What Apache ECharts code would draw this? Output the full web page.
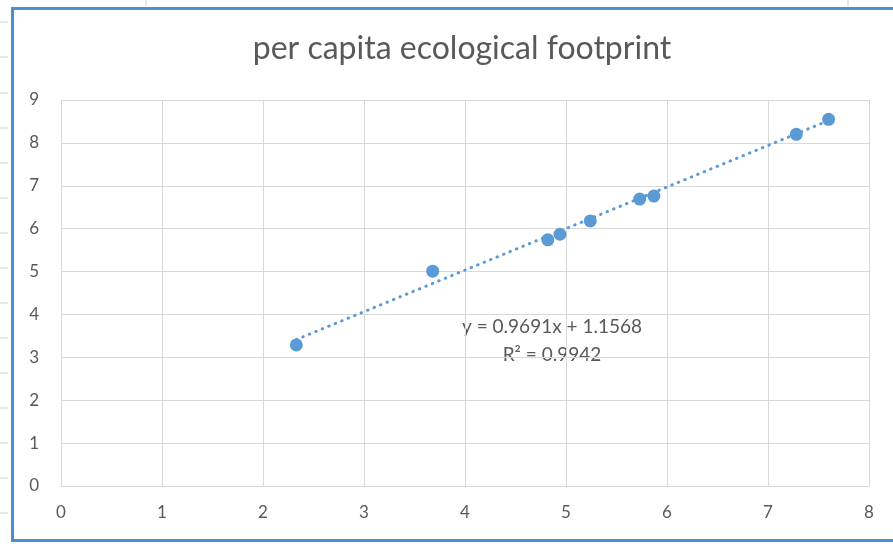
<!DOCTYPE html>
<html>
<head>
<meta charset="utf-8">
<script src="https://cdn.jsdelivr.net/npm/echarts@6/dist/echarts.min.js"></script>
<style>
html,body{margin:0;padding:0;background:#fff;}
#c{width:893px;height:544px;}
</style>
</head>
<body>
<div id="c"></div>
<script>
const chartTitle = 'per capita ecological footprint';
const xValues = [2.33, 3.68, 4.82, 4.94, 5.24, 5.73, 5.87, 7.28, 7.60];
const yValues = [3.29, 5.01, 5.74, 5.87, 6.18, 6.69, 6.76, 8.20, 8.55];
const trendSlope = 0.9691;
const trendIntercept = 1.1568;
const trendLabel = ['y = 0.9691x + 1.1568', 'R² = 0.9942'];

const points = xValues.map((x, i) => [x, yValues[i]]);
const xMin = Math.min(...xValues), xMax = Math.max(...xValues);
const trend = [[xMin, trendSlope * xMin + trendIntercept], [xMax, trendSlope * xMax + trendIntercept]];

const chart = echarts.init(document.getElementById('c'), null, {renderer: 'canvas'});
const fontFam = 'Lato, "Open Sans", sans-serif';
const txt = '#595959';
const gridCol = '#d9d9d9';

const rowTicks = [];
[22, 57, 93, 128, 163, 198, 233, 268, 303, 338, 373, 408, 443, 478, 513].forEach(y => {
  rowTicks.push({type:'line', shape:{x1:0,y1:y,x2:8,y2:y}, style:{stroke:'#d0d0d0', lineWidth:1}, silent:true});
});

chart.setOption({
  backgroundColor: '#fff',
  animation: false,
  title: {
    text: chartTitle,
    left: 457, top: 28, textAlign: 'center',
    textStyle: {fontFamily: fontFam, fontSize: 32, fontWeight: 'normal', color: txt}
  },
  grid: {left: 61, right: 24, top: 100, bottom: 58, containLabel: false},
  xAxis: {
    type: 'value', min: 0, max: 8, interval: 1,
    axisLine: {show: true, lineStyle: {color: gridCol}},
    axisTick: {show: false},
    splitLine: {show: true, lineStyle: {color: gridCol, width: 1}},
    axisLabel: {color: txt, fontFamily: fontFam, fontSize: 17, margin: 18}
  },
  yAxis: {
    type: 'value', min: 0, max: 9, interval: 1,
    axisLine: {show: true, lineStyle: {color: gridCol}},
    axisTick: {show: false},
    splitLine: {show: true, lineStyle: {color: gridCol, width: 1}},
    axisLabel: {color: txt, fontFamily: fontFam, fontSize: 17, margin: 22}
  },
  series: [
    {
      type: 'line', data: trend, symbol: 'none', silent: true,
      lineStyle: {color: '#5b9bd5', width: 3, type: [0.5, 6.5], cap: 'round'},
      z: 2
    },
    {
      type: 'scatter', data: points, symbol: 'circle', symbolSize: 13,
      itemStyle: {color: '#5b9bd5', opacity: 1}, z: 3
    }
  ],
  graphic: rowTicks.concat([
    {type:'line', shape:{x1:146,y1:0,x2:146,y2:6}, style:{stroke:'#d0d0d0', lineWidth:1}, silent:true},
    {type:'line', shape:{x1:848,y1:0,x2:848,y2:6}, style:{stroke:'#d0d0d0', lineWidth:1}, silent:true},
    {type:'rect', shape:{x:12.5, y:8.5, width:900, height:532}, style:{fill:'none', stroke:'#4a8fd6', lineWidth:3}, silent:true, z:10},
    {type:'text', style:{text: trendLabel[0], fill: txt, font: '19px ' + fontFam, textAlign:'center'}, x: 552, y: 317, silent:true},
    {type:'text', style:{text: trendLabel[1], fill: txt, font: '19px ' + fontFam, textAlign:'center'}, x: 552, y: 345, silent:true}
  ])
});
</script>
</body>
</html>
